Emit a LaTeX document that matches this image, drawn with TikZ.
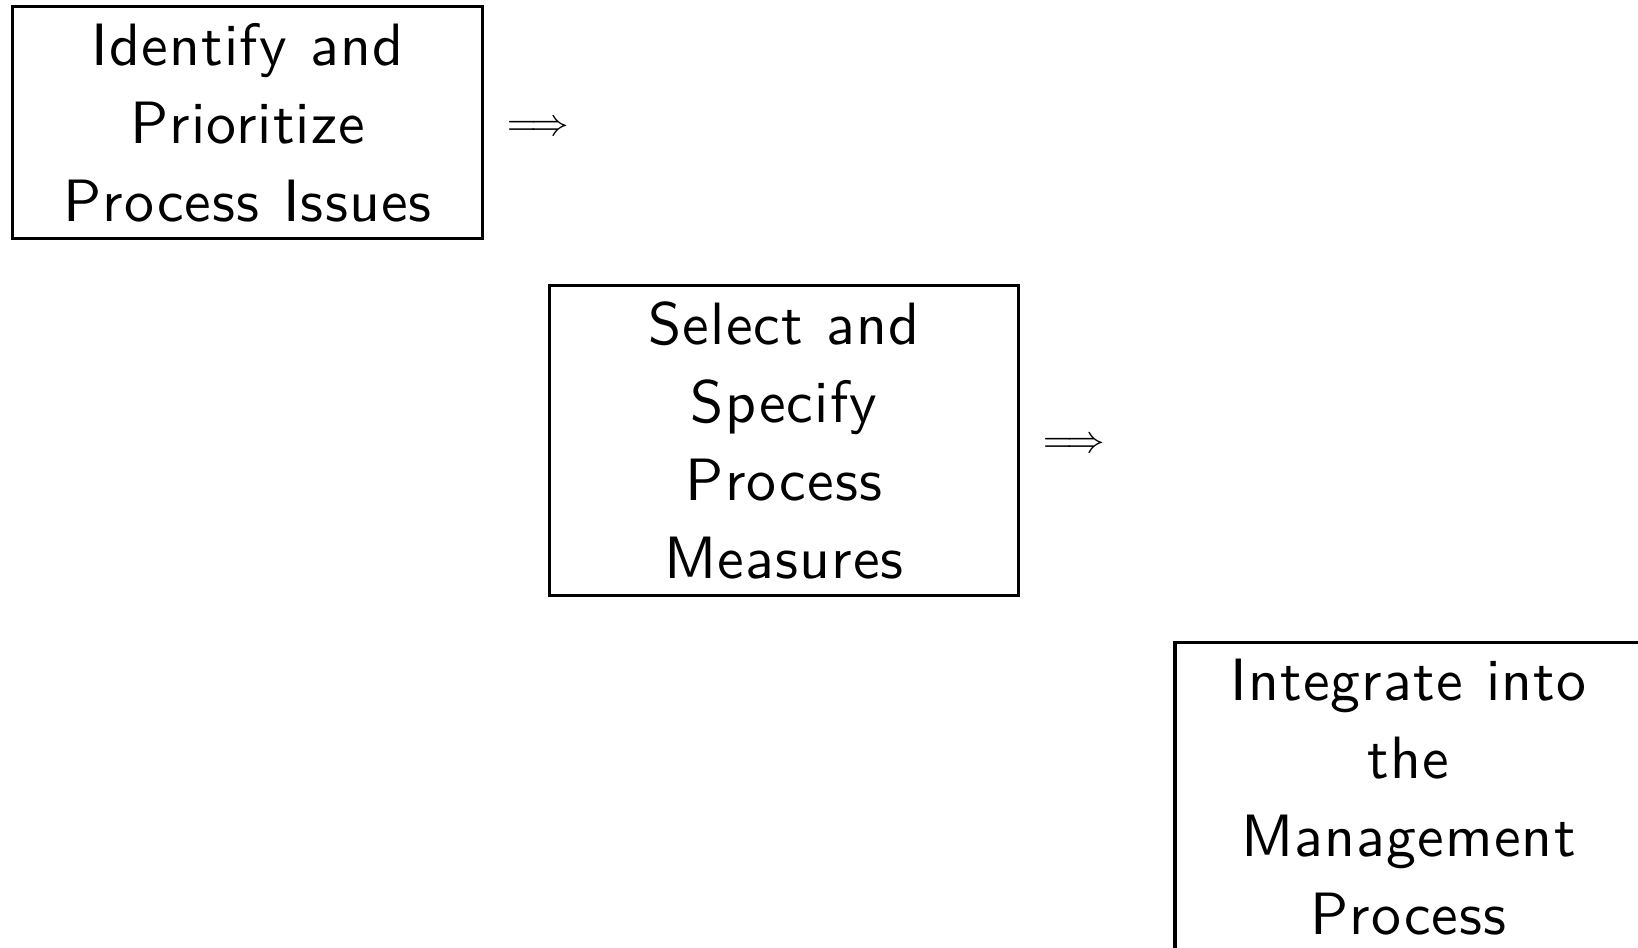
\documentclass[tikz,border=0pt]{standalone}
\usepackage{fontspec}
\newfontfamily\boxfont{lmsans10-regular.otf}[LetterSpace=2.0,WordSpace=1.12]
\usetikzlibrary{positioning}
\begin{document}
\begin{tikzpicture}[
  stepbox/.style={draw, line width=0.9pt, align=center, inner sep=0pt,
    font=\boxfont\fontsize{17}{22.2}\selectfont},
  implarrow/.style={inner sep=0pt, font=\fontsize{11.4}{13}\selectfont}
]
\useasboundingbox (0,0) rectangle (16.38,-9.47);
\node[stepbox, minimum width=4.70cm, minimum height=2.32cm] (b1) at (2.476,-1.223)
  {Identify and\\Prioritize\\Process Issues};
\node[stepbox, minimum width=4.69cm, minimum height=3.10cm] (b2) at (7.84,-4.402)
  {Select and\\Specify\\Process\\Measures};
\node[stepbox, minimum width=4.67cm, minimum height=3.085cm] (b3) at (14.085,-7.968)
  {Integrate into\\the\\Management\\Process};
\node[implarrow, right=0.22cm of b1.east, anchor=west, yshift=-0.065cm] (a1) {$\Longrightarrow$};
\node[implarrow, right=0.22cm of b2.east, anchor=west, yshift=-0.055cm] (a2) {$\Longrightarrow$};
\end{tikzpicture}
\end{document}
